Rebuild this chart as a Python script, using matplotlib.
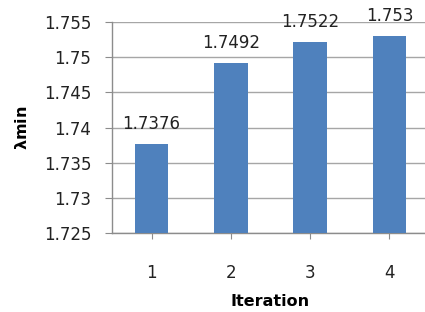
import numpy as np
import matplotlib
matplotlib.use("Agg")
import matplotlib.pyplot as plt

iterations = ["1", "2", "3", "4"]
lambda_min = [1.7376, 1.7492, 1.7522, 1.753]
value_labels = ["1.7376", "1.7492", "1.7522", "1.753"]
yticks = [1.725, 1.73, 1.735, 1.74, 1.745, 1.75, 1.755]
ytick_labels = ["1.725", "1.73", "1.735", "1.74", "1.745", "1.75", "1.755"]

W, H = 425, 312
fig = plt.figure(figsize=(W / 100, H / 100), dpi=100)
# plot area runs a little past the right edge, as in the reference
ax = fig.add_axes([112 / W, 1 - 233 / H, 317 / W, 211 / H])

x = np.arange(1, len(iterations) + 1)
ax.bar(x, lambda_min, width=0.42, color="#4F81BD", zorder=3)
for xi, v, lab in zip(x, lambda_min, value_labels):
    ax.annotate(lab, (xi, v), xytext=(0, 8), textcoords="offset points",
                ha="center", va="bottom", fontsize=12, color="#222222",
                zorder=4)

ax.set_xlim(0.5, 4.5)
ax.set_ylim(1.725, 1.755)
ax.set_yticks(yticks)
ax.set_yticklabels(ytick_labels)
ax.set_xticks(x)
ax.set_xticklabels(iterations)
ax.grid(axis="y", color="#A6A6A6", linewidth=1.0, zorder=0)
for s in ["top", "right"]:
    ax.spines[s].set_visible(False)
for s in ["left", "bottom"]:
    ax.spines[s].set_color("#8C8C8C")
    ax.spines[s].set_linewidth(1.0)
ax.tick_params(axis="y", length=5, color="#8C8C8C", labelsize=12,
               labelcolor="#222222", pad=10)
ax.tick_params(axis="x", length=4, color="#8C8C8C", labelsize=12,
               labelcolor="#222222", pad=18)

ax.set_xlabel("Iteration", fontsize=11.5, fontweight="bold", labelpad=9)
ax.set_ylabel(r"$\mathbf{\lambda}$min", fontsize=11.5, fontweight="bold",
              labelpad=10)

fig.savefig("out.png", dpi=100)
